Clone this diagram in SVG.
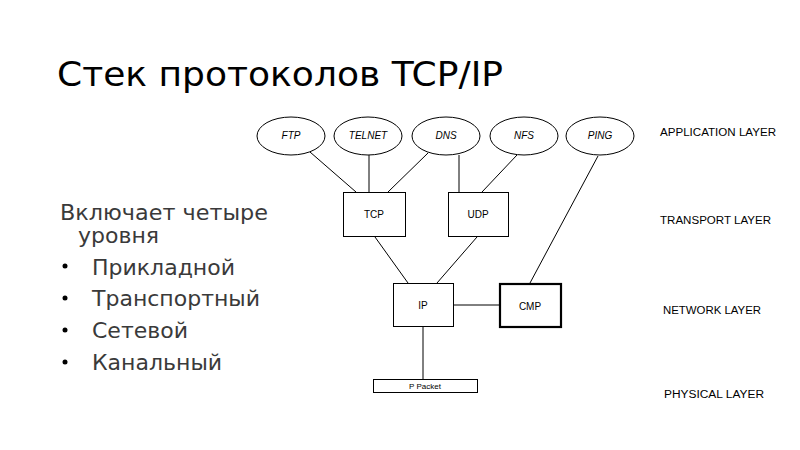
<svg xmlns="http://www.w3.org/2000/svg" width="800" height="450" viewBox="0 0 800 450">
<style>
.title{font-family:"DejaVu Sans","Liberation Sans",sans-serif;font-size:33px;fill:#000}
.body{font-family:"DejaVu Sans","Liberation Sans",sans-serif;font-size:22px;fill:#3a3a3a}
.node{fill:#fff;stroke:#000;stroke-width:1}
.thick{fill:#fff;stroke:#000;stroke-width:2.2}
.lbl{font-family:"Liberation Sans",sans-serif;font-size:10px;fill:#000;text-anchor:middle;dominant-baseline:central}
.it{font-style:italic}
.layer{font-family:"Liberation Sans",sans-serif;font-size:10px;fill:#000}
.conn line{stroke:#000;stroke-width:1}
</style>
<rect width="800" height="450" fill="#fff"/>
<text class="title" x="57" y="86" textLength="446" lengthAdjust="spacingAndGlyphs">Стек протоколов TCP/IP</text>
<g id="intro">
<text class="body" x="60" y="220" textLength="208" lengthAdjust="spacingAndGlyphs">Включает четыре</text>
<text class="body" x="78" y="243">уровня</text>
<g fill="#000"><circle cx="65" cy="266" r="2.5"/><circle cx="65" cy="298" r="2.5"/><circle cx="65" cy="330" r="2.5"/><circle cx="65" cy="362" r="2.5"/></g>
<text class="body" x="92" y="275">Прикладной</text>
<text class="body" x="92" y="306">Транспортный</text>
<text class="body" x="92" y="338">Сетевой</text>
<text class="body" x="92" y="370">Канальный</text>
</g>
<g class="conn" id="connectors">
<line x1="310" y1="152" x2="356" y2="192"/>
<line x1="369" y1="155" x2="369" y2="192"/>
<line x1="428" y1="153" x2="388" y2="192"/>
<line x1="459" y1="155" x2="459" y2="192"/>
<line x1="517" y1="155" x2="482" y2="192"/>
<line x1="598" y1="156" x2="530" y2="283"/>
<line x1="375" y1="237" x2="408" y2="283"/>
<line x1="477" y1="237" x2="437" y2="283"/>
<line x1="453" y1="305" x2="500" y2="305"/>
<line x1="423" y1="327" x2="423" y2="379"/>
</g>
<g id="ftp"><ellipse class="node" cx="291" cy="136" rx="34" ry="19"/><text class="lbl it" x="291" y="135">FTP</text></g>
<g id="telnet"><ellipse class="node" cx="368" cy="136" rx="34" ry="19"/><text class="lbl it" x="368" y="135">TELNET</text></g>
<g id="dns"><ellipse class="node" cx="446" cy="136" rx="34" ry="19"/><text class="lbl it" x="446" y="135">DNS</text></g>
<g id="nfs"><ellipse class="node" cx="524" cy="136" rx="34" ry="19"/><text class="lbl it" x="524" y="135">NFS</text></g>
<g id="ping"><ellipse class="node" cx="600" cy="136" rx="34" ry="19"/><text class="lbl it" x="600" y="135">PING</text></g>
<g id="tcp"><rect class="node" x="343.5" y="192.5" width="62" height="44"/><text class="lbl" x="374" y="214">TCP</text></g>
<g id="udp"><rect class="node" x="448.5" y="192.5" width="60" height="44"/><text class="lbl" x="478" y="214">UDP</text></g>
<g id="ip"><rect class="node" x="393.5" y="283.5" width="60" height="43"/><text class="lbl" x="423" y="305">IP</text></g>
<g id="icmp"><rect class="thick" x="500" y="284" width="61" height="43"/><text class="lbl" x="530" y="306">CMP</text></g>
<g id="packet"><rect class="node" x="373.5" y="379.5" width="104" height="13"/><text class="lbl" x="425" y="386" style="font-size:8px">P Packet</text></g>
<g id="layers">
<text class="layer" x="660" y="136" textLength="116" lengthAdjust="spacingAndGlyphs">APPLICATION LAYER</text>
<text class="layer" x="660" y="224" textLength="111" lengthAdjust="spacingAndGlyphs">TRANSPORT LAYER</text>
<text class="layer" x="663" y="314" textLength="98" lengthAdjust="spacingAndGlyphs">NETWORK LAYER</text>
<text class="layer" x="664" y="398" textLength="100" lengthAdjust="spacingAndGlyphs">PHYSICAL LAYER</text>
</g>
</svg>
